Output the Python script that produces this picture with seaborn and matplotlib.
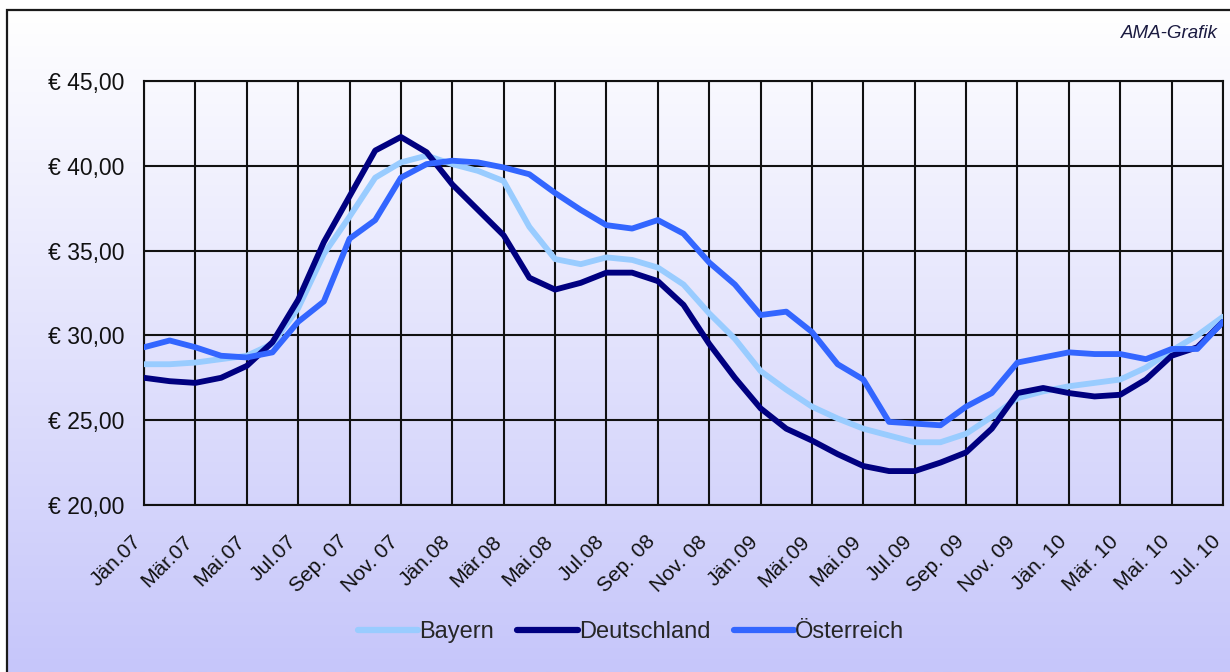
import numpy as np
import pandas as pd
import matplotlib
matplotlib.use("Agg")
import matplotlib.pyplot as plt
import matplotlib.transforms as mtransforms
from matplotlib.patches import Rectangle
from matplotlib.lines import Line2D
import seaborn as sns

# ---------------- data ----------------
months = list(range(43))  # Jän.07 .. Jul.10 (monthly)
tick_labels = ["Jän.07", "Mär.07", "Mai.07", "Jul.07", "Sep. 07", "Nov. 07",
               "Jän.08", "Mär.08", "Mai.08", "Jul.08", "Sep. 08", "Nov. 08",
               "Jän.09", "Mär.09", "Mai.09", "Jul.09", "Sep. 09", "Nov. 09",
               "Jän. 10", "Mär. 10", "Mai. 10", "Jul. 10"]
bayern = [28.3, 28.3, 28.4, 28.6, 28.8, 29.5, 31.6, 34.8, 37.0, 39.3, 40.2, 40.6,
          40.1, 39.7, 39.1, 36.4, 34.5, 34.2, 34.6, 34.45, 34.0, 33.0, 31.3, 29.8,
          27.9, 26.8, 25.8, 25.1, 24.5, 24.1, 23.7, 23.7, 24.2, 25.2, 26.3, 26.7,
          27.0, 27.2, 27.4, 28.1, 29.1, 30.0, 31.1]
deutschland = [27.5, 27.3, 27.2, 27.5, 28.2, 29.6, 32.1, 35.5, 38.2, 40.9, 41.7, 40.8,
               38.9, 37.4, 35.9, 33.4, 32.7, 33.1, 33.7, 33.7, 33.2, 31.8, 29.5, 27.5,
               25.7, 24.5, 23.8, 23.0, 22.3, 22.0, 22.0, 22.5, 23.1, 24.5, 26.6, 26.9,
               26.6, 26.4, 26.5, 27.4, 28.8, 29.3, 30.8]
oesterreich = [29.3, 29.7, 29.3, 28.8, 28.7, 29.0, 30.8, 32.0, 35.7, 36.8, 39.3, 40.1,
               40.3, 40.2, 39.9, 39.5, 38.4, 37.4, 36.5, 36.3, 36.8, 36.0, 34.3, 33.0,
               31.2, 31.4, 30.2, 28.3, 27.4, 24.9, 24.8, 24.7, 25.8, 26.6, 28.4, 28.7,
               29.0, 28.9, 28.9, 28.6, 29.2, 29.2, 30.8]
series_names = ["Bayern", "Deutschland", "Österreich"]
colors = ["#99CCFF", "#000080", "#3366FF"]
y_ticks = [20, 25, 30, 35, 40, 45]
x_ticks = list(range(0, 43, 2))

df = pd.DataFrame({
    "Monat": months * 3,
    "Preis": bayern + deutschland + oesterreich,
    "Region": [series_names[0]] * 43 + [series_names[1]] * 43 + [series_names[2]] * 43,
})

# ---------------- figure ----------------
sns.set_theme(style="white")
plt.rcParams["font.family"] = ["Liberation Sans", "DejaVu Sans"]

W, H = 1230, 672
fig = plt.figure(figsize=(W / 100, H / 100), dpi=100)
fig.patch.set_facecolor("white")

# gradient background inside the outer frame
bx0, btop = 7 / W, 1 - 10 / H
bg = fig.add_axes([bx0, 0, 1 - bx0, btop], zorder=0)
grad = np.linspace(0, 1, 256).reshape(-1, 1)
top_c = np.array([1.0, 1.0, 1.0])
bot_c = np.array([198, 198, 250]) / 255
img = top_c[None, None, :] * (1 - grad[:, :, None]) + bot_c[None, None, :] * grad[:, :, None]
bg.imshow(img, aspect="auto", extent=[0, 1, 0, 1], origin="upper")
bg.set_axis_off()
fig.add_artist(Rectangle((bx0, -0.02), 1.0, btop + 0.02, transform=fig.transFigure,
                         fill=False, edgecolor="#1a1a1a", linewidth=1.6, zorder=5))

left, right, top, bottom = 144 / W, 1223 / W, 1 - 81 / H, 1 - 505 / H
ax = fig.add_axes([left, bottom, right - left, top - bottom], zorder=2)
ax.set_facecolor("none")

sns.lineplot(data=df, x="Monat", y="Preis", hue="Region", palette=colors,
             hue_order=series_names, linewidth=4.2, ax=ax, legend=False, zorder=3)

ax.set_xlim(0, 42)
ax.set_ylim(20, 45)
ax.set_xticks(x_ticks)
ax.set_xticklabels([])
ax.set_yticks(y_ticks)
ax.set_yticklabels([f"€ {v},00" for v in y_ticks], fontsize=16.5, color="#111111")
ax.tick_params(axis="y", length=0, pad=14)
ax.tick_params(axis="x", length=0)
ax.set_xlabel("")
ax.set_ylabel("")
ax.grid(True, color="#111111", linewidth=1.5)
ax.set_axisbelow(True)
for s in ax.spines.values():
    s.set_color("#111111")
    s.set_linewidth(1.5)

# rotated month labels placed at the tick positions
lab_tr = mtransforms.blended_transform_factory(ax.transData, ax.transAxes) + \
    mtransforms.ScaledTranslation(-12 / 100, -27 / 100, fig.dpi_scale_trans)
for xt, lab in zip(x_ticks, tick_labels):
    ax.text(xt, 0, lab, transform=lab_tr, rotation=45, ha="right", va="top",
            rotation_mode="anchor", fontsize=15, color="#111111", clip_on=False)

# legend
handles = [Line2D([0], [0], color=c, linewidth=4.5) for c in colors]
fig.legend(handles, series_names, loc="center", ncol=3, frameon=False,
           bbox_to_anchor=(631 / W, 1 - 632 / H), fontsize=17,
           handlelength=2.55, handletextpad=0.05, columnspacing=1.0)

fig.text(1218 / W, 1 - 34 / H, "AMA-Grafik", ha="right", va="center",
         fontsize=13.5, style="italic", color="#1a1a40")

fig.savefig("out.png", dpi=100)
